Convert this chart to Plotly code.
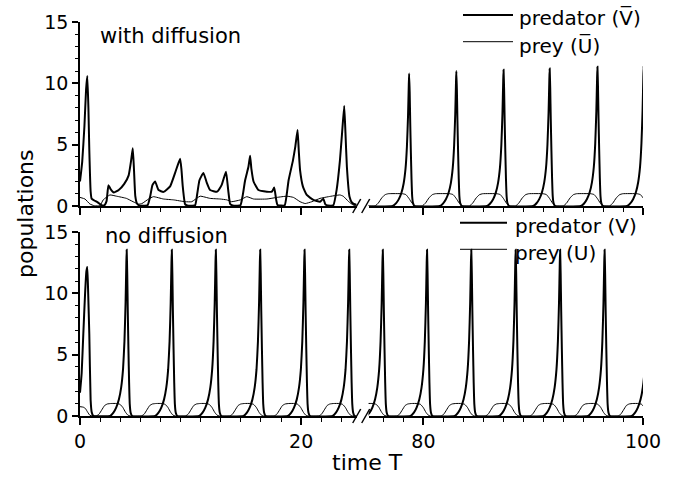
import plotly.graph_objects as go

FONT = "DejaVu Sans"

# ---------------- data ----------------
# "with diffusion": transient part (0-25), predator V-bar
wd_pred_t = [0.0, 0.2, 0.4, 0.55, 0.66, 0.76, 0.84, 0.96, 1.05, 1.3, 1.6, 1.9, 2.2, 2.4, 2.57, 2.75,
             3.07, 3.5, 4.0, 4.4, 4.62, 4.77, 4.88, 5.0, 5.15, 5.35, 6.1, 6.35, 6.55, 6.79, 7.1, 7.55,
             8.15, 8.6, 9.05, 9.17, 9.29, 9.5, 9.7, 10.4, 10.6, 10.8, 11.16, 11.46, 11.76, 12.4, 12.8,
             13.2, 13.4, 13.58, 13.8, 14.5, 14.7, 14.93, 15.23, 15.38, 15.5, 15.69, 16.14, 16.9, 17.35,
             17.56, 17.74, 17.86, 18.5, 18.7, 18.86, 19.25, 19.46, 19.67, 19.78, 19.9, 20.15, 20.5,
             21.1, 21.7, 22.0, 22.17, 22.4, 22.9, 23.2, 23.5, 23.7, 23.89, 24.0, 24.13, 24.37, 24.6, 25.0]
wd_pred_v = [2.0, 3.6, 6.5, 9.5, 10.6, 8.0, 4.6, 1.2, 0.6, 0.45, 0.3, 0.08, 0.05, 0.4, 1.7, 1.4,
             1.1, 1.3, 1.8, 2.5, 3.7, 4.7, 3.0, 0.8, 0.2, 0.05, 0.05, 0.8, 1.7, 2.0, 1.3, 1.15,
             1.6, 2.7, 3.85, 3.0, 1.6, 0.15, 0.04, 0.05, 1.0, 2.1, 2.7, 1.9, 1.3, 1.17, 1.7,
             2.8, 1.3, 0.16, 0.04, 0.05, 0.8, 2.1, 3.2, 4.1, 3.0, 2.0, 1.3, 1.17, 1.17,
             1.5, 0.5, 0.08, 0.05, 1.0, 2.1, 3.7, 4.8, 6.2, 4.5, 2.9, 1.6, 0.9,
             0.5, 0.35, 0.6, 0.16, 0.04, 0.05, 1.3, 3.7, 6.0, 8.15, 6.0, 3.2, 0.76, 0.27, 0.1]
# "with diffusion": transient part (0-25), prey U-bar
wd_prey_t = [0.0, 0.45, 0.9, 1.3, 1.8, 2.1, 2.7, 3.3, 4.2, 4.8, 5.3, 5.6, 6.2, 6.64, 7.55, 8.45,
             9.5, 10.1, 10.86, 11.76, 12.67, 13.27, 13.7, 14.5, 15.08, 15.7, 16.9, 17.8, 18.7, 19.3,
             19.9, 20.36, 20.96, 21.7, 22.47, 23.5, 23.8, 24.3, 24.7, 25.0]
wd_prey_v = [0.7, 0.57, 0.16, 0.02, 0.02, 0.5, 0.9, 0.8, 0.62, 0.35, 0.15, 0.2, 0.57, 0.76, 0.57, 0.5,
             0.35, 0.35, 0.8, 0.62, 0.57, 0.5, 0.35, 0.5, 0.76, 0.57, 0.57, 0.7, 0.8, 0.7,
             0.35, 0.2, 0.35, 0.62, 0.76, 0.9, 0.8, 0.35, 0.08, 0.0]
# "with diffusion": regular cycles (75-100) - peak times and heights of the predator
wd_peak_t = [74.4, 78.7, 83.0, 87.3, 91.5, 95.85, 100.06]
wd_peak_v = [10.7, 10.8, 11.0, 11.1, 11.2, 11.35, 11.4]

# "no diffusion": first (transient) predator peak and prey start
nd_pred0_t = [0.0, 0.15, 0.3, 0.45, 0.58, 0.66, 0.74, 0.84, 0.96, 1.06, 1.2]
nd_pred0_v = [1.9, 3.5, 6.7, 9.8, 11.8, 12.15, 10.0, 6.7, 1.3, 0.3, 0.02]
nd_prey0_t = [0.0, 0.3, 0.5, 0.7, 0.9, 1.1]
nd_prey0_v = [0.76, 0.72, 0.6, 0.3, 0.05, 0.0]
# "no diffusion": regular cycles - predator peak times and heights
nd_peak_t = [4.22, 8.30, 12.28, 16.29, 20.30, 24.34, 72.26, 76.3, 80.33, 84.36, 88.40, 92.45, 96.5, 100.48]
nd_peak_v = [13.56, 13.56, 13.56, 13.56, 13.56, 13.56, 13.56, 13.56, 13.56, 13.56, 13.56, 13.56, 13.56, 13.56]

# shape of one predator spike (time offset from the peak, fraction of peak height)
pred_dt = [-1.5, -1.2, -0.95, -0.7, -0.5, -0.33, -0.2, -0.1, -0.03, 0.0, 0.05, 0.1, 0.16, 0.22, 0.28, 0.36, 0.5]
pred_f = [0.0, 0.02, 0.05, 0.1, 0.17, 0.28, 0.45, 0.68, 0.92, 1.0, 0.86, 0.63, 0.4, 0.2, 0.07, 0.02, 0.0]
# shape of one prey plateau, no diffusion (offset from predator peak, value)
nd_prey_dt = [-2.75, -2.5, -2.25, -2.0, -1.75, -1.4, -0.9, -0.6, -0.35, -0.1, 0.1, 0.3]
nd_prey_v = [0.0, 0.15, 0.5, 0.85, 0.98, 1.02, 1.02, 0.95, 0.7, 0.3, 0.08, 0.0]
# shape of one prey plateau, with diffusion (offset from predator peak, value)
wd_prey_dt = [-3.1, -2.8, -2.5, -2.2, -1.9, -0.6, -0.3, 0.0, 0.25, 0.5, 0.6]
wd_prey_cv = [0.0, 0.25, 0.65, 0.92, 1.0, 1.0, 0.93, 0.6, 0.25, 0.03, 0.0]

x_ticks = [0, 20, 80, 100]


def cycles(peaks, heights, dts, vals, scale):
    t, v = [], []
    for tp, h in zip(peaks, heights):
        for d, f in zip(dts, vals):
            t.append(round(tp + d, 3))
            v.append(h * f if scale else f)
    return t, v


# assemble series
t1, v1 = cycles(wd_peak_t, wd_peak_v, pred_dt, pred_f, True)
wd_pred_T, wd_pred_V = wd_pred_t + t1, wd_pred_v + v1
t1, v1 = cycles(wd_peak_t, wd_peak_v, wd_prey_dt, wd_prey_cv, False)
wd_prey_T, wd_prey_V = wd_prey_t + t1, wd_prey_v + v1
t1, v1 = cycles(nd_peak_t, nd_peak_v, pred_dt, pred_f, True)
nd_pred_T, nd_pred_V = nd_pred0_t + t1, nd_pred0_v + v1
t1, v1 = cycles(nd_peak_t, nd_peak_v, nd_prey_dt, nd_prey_v, False)
nd_prey_T, nd_prey_V = nd_prey0_t + [a for a in t1 if a > 1.1], nd_prey0_v + [b for a, b in zip(t1, v1) if a > 1.1]

fig = go.Figure()


def add(t, v, width, xa, ya, name):
    fig.add_trace(go.Scatter(x=t, y=v, mode="lines", name=name,
                             line=dict(color="black", width=width, shape="spline", smoothing=0.4),
                             xaxis=xa, yaxis=ya, showlegend=False, hoverinfo="skip"))


for xa in ("x3", "x4"):
    add(wd_prey_T, wd_prey_V, 1, xa, "y2", "prey (Ū)")
    add(wd_pred_T, wd_pred_V, 2, xa, "y2", "predator (V̄)")
for xa in ("x", "x2"):
    add(nd_prey_T, nd_prey_V, 1, xa, "y", "prey (U)")
    add(nd_pred_T, nd_pred_V, 2, xa, "y", "predator (V)")

L, R, T, B = 80, 33, 22, 61
W, H = 676, 477
PW, PH = W - L - R, H - T - B


def px(x):
    return (x - L) / PW


def py(y):
    return (H - B - y) / PH


left_dom = [0, px(356.5)]
right_dom = [px(368.5), 1]

tickfont = dict(family=FONT, size=19, color="black")
xcommon = dict(showline=True, linecolor="black", linewidth=1.5, ticks="outside", ticklen=7,
               tickwidth=1.5, tickcolor="black", tickmode="array", tickvals=x_ticks,
               showgrid=False, zeroline=False, tickfont=tickfont,
               minor=dict(ticks="outside", ticklen=4, tickwidth=1.2, tickcolor="black",
                          tickmode="linear", tick0=0, dtick=20 / 11, showgrid=False))
ycommon = dict(showline=True, linecolor="black", linewidth=1.5, ticks="outside", ticklen=6,
               tickwidth=1.5, tickcolor="black", range=[0, 15], tickmode="array",
               tickvals=[0, 5, 10, 15], showgrid=False, zeroline=False, tickfont=tickfont,
               minor=dict(ticks="outside", ticklen=3.5, tickwidth=1.2, tickcolor="black",
                          tickmode="linear", tick0=0, dtick=1, showgrid=False))

y_lo = [0, py(232)]
y_hi = [py(206), 1]

fig.update_layout(
    width=W, height=H, margin=dict(l=L, r=R, t=T, b=B),
    paper_bgcolor="white", plot_bgcolor="white",
    font=dict(family=FONT, color="black"),
    xaxis=dict(xcommon, domain=left_dom, range=[0, 25], anchor="y"),
    xaxis2=dict(xcommon, domain=right_dom, range=[75, 100], anchor="y"),
    xaxis3=dict(xcommon, domain=left_dom, range=[0, 25], anchor="y2", showticklabels=False),
    xaxis4=dict(xcommon, domain=right_dom, range=[75, 100], anchor="y2", showticklabels=False),
    yaxis=dict(ycommon, domain=y_lo, anchor="x"),
    yaxis2=dict(ycommon, domain=y_hi, anchor="x3"),
)

shapes = []
# axis break marks "//"
for ybase in (206, 416):
    for x0 in (352.7, 361.7):
        shapes.append(dict(type="line", xref="paper", yref="paper",
                           x0=px(x0), y0=py(ybase + 7), x1=px(x0 + 8), y1=py(ybase - 7),
                           line=dict(color="black", width=1.5)))
# legend line samples
leg = [(463, 513, 15, 2), (463, 513, 41.7, 1), (460, 507, 222.7, 2), (460, 507, 249.3, 1)]
for x0, x1, yy, w in leg:
    shapes.append(dict(type="line", xref="paper", yref="paper", x0=px(x0), x1=px(x1),
                       y0=py(yy), y1=py(yy), line=dict(color="black", width=w)))
fig.update_layout(shapes=shapes)

ann = []


def text(s, x, y, size, xanchor="left", angle=0):
    ann.append(dict(text=s, xref="paper", yref="paper", x=px(x), y=py(y), showarrow=False,
                    xanchor=xanchor, yanchor="middle", textangle=angle,
                    font=dict(family=FONT, size=size, color="black")))


text("with diffusion", 98, 36, 21)
text("no diffusion", 103, 236, 21)
text("predator (V\u0305)", 517, 18, 20)
text("prey (U\u0305)", 517, 45, 20)
text("predator (V)", 513, 226, 20)
text("prey (U)", 513, 253, 20)
text("populations", 25, 214, 22, "center", -90)
text("time T", 367, 462, 22, "center")
fig.update_layout(annotations=ann)

fig.write_html("out.html", config={"displayModeBar": False},
               post_script="document.body.style.margin='0';document.body.style.overflow='hidden';")
